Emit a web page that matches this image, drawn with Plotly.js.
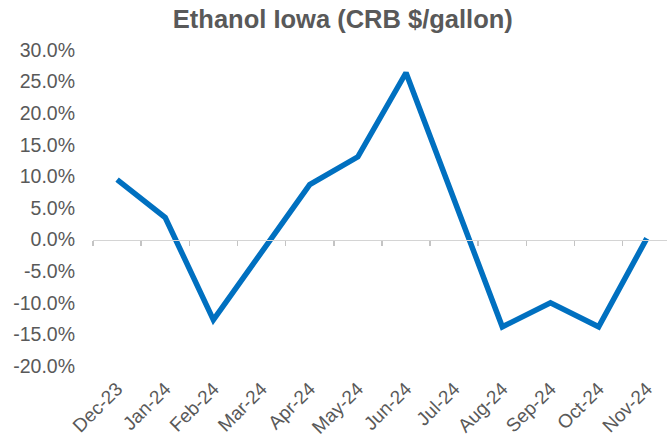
<!DOCTYPE html>
<html>
<head>
<meta charset="utf-8">
<script src="https://cdn.plot.ly/plotly-3.0.1.min.js"></script>
<style>html,body{margin:0;padding:0;background:#fff;}#chart{width:667px;height:439px;}</style>
</head>
<body>
<div id="chart"></div>
<script>
const months = ["Dec-23","Jan-24","Feb-24","Mar-24","Apr-24","May-24","Jun-24","Jul-24","Aug-24","Sep-24","Oct-24","Nov-24"];
const changePct = [9.5, 3.5, -12.7, -2.1, 8.7, 13.1, 26.4, 6.3, -13.8, -10.0, -13.8, 0.2];
const yTickVals = [30, 25, 20, 15, 10, 5, 0, -5, -10, -15, -20];
const yTickText = ["30.0%","25.0%","20.0%","15.0%","10.0%","5.0%","0.0%","-5.0%","-10.0%","-15.0%","-20.0%"];

const textColor = "#595959";
const fontFam = "Liberation Sans, Arial, sans-serif";
const xRange = [-0.5, 11.42];

const traces = [
  {
    x: months, y: changePct, type: "scatter", mode: "lines",
    line: {color: "rgba(0,0,0,0)", width: 0},
    xaxis: "x2", yaxis: "y", hoverinfo: "skip", showlegend: false
  },
  {
    x: months, y: changePct, type: "scatter", mode: "lines",
    line: {color: "#0070C0", width: 5.5, shape: "linear"},
    xaxis: "x", yaxis: "y", hoverinfo: "skip", showlegend: false, cliponaxis: false
  }
];

const layout = {
  width: 667, height: 439,
  margin: {l: 93, r: 0, t: 50, b: 73},
  paper_bgcolor: "#ffffff", plot_bgcolor: "#ffffff",
  title: {
    text: "<b>Ethanol Iowa (CRB $/gallon)</b>",
    font: {family: fontFam, size: 25.5, color: textColor},
    x: 0.514, xanchor: "center", y: 0.978, yanchor: "top"
  },
  xaxis: {
    type: "category", categoryorder: "array", categoryarray: months,
    range: xRange, anchor: "free", position: 0.4, side: "bottom",
    showline: true, linecolor: "#d4d4d4", linewidth: 1.5,
    ticks: "outside", tickson: "boundaries", ticklen: 5, tickcolor: "#c4c4c4", tickwidth: 1.5,
    showticklabels: true, tickfont: {size: 1, color: "rgba(0,0,0,0)"},
    showgrid: false, zeroline: false, fixedrange: true
  },
  xaxis2: {
    type: "category", categoryorder: "array", categoryarray: months,
    range: xRange, overlaying: "x", anchor: "y", side: "bottom",
    showline: false, ticks: "", showgrid: false, zeroline: false,
    tickangle: -45, tickfont: {family: fontFam, size: 19, color: textColor},
    ticklabelstandoff: 7, fixedrange: true
  },
  yaxis: {
    range: [-20, 30], tickvals: yTickVals, ticktext: yTickText,
    showgrid: false, zeroline: false, showline: false, ticks: "",
    tickfont: {family: fontFam, size: 19.5, color: textColor},
    ticklabelstandoff: 17, fixedrange: true
  },
  showlegend: false
};

Plotly.newPlot("chart", traces, layout, {staticPlot: true, displayModeBar: false});
</script>
</body>
</html>
